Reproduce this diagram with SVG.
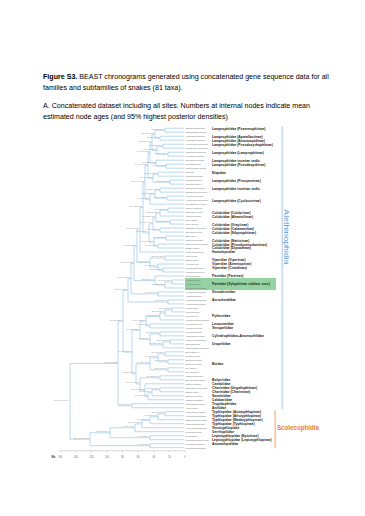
<svg xmlns="http://www.w3.org/2000/svg" width="365" height="516" viewBox="0 0 365 516">
<style>
.br{fill:none;stroke:#8cc0e2;stroke-width:0.6;vector-effect:non-scaling-stroke}
.sp{font-family:"Liberation Sans",Arial,sans-serif;font-size:2px;fill:#666}
.fam{font-family:"Liberation Sans",Arial,sans-serif;font-size:3.4px;font-weight:bold;fill:#222}
.nl{font-family:"Liberation Sans",Arial,sans-serif;font-size:1.8px;fill:#888;text-anchor:end}
.ttl{font-family:"Liberation Sans",Arial,sans-serif;font-size:7.1px;fill:#000}
.axl{font-family:"Liberation Sans",Arial,sans-serif;font-size:2.4px;fill:#666;text-anchor:middle}
</style>
<rect width="365" height="516" fill="#fff"/>
<g id="title">
<text class="ttl" x="43" y="79"><tspan font-weight="bold">Figure S3.</tspan> BEAST chronograms generated using concatenated gene sequence data for all</text>
<text class="ttl" x="43" y="90">families and subfamilies of snakes (81 taxa).</text>
<text class="ttl" x="43" y="108">A. Concatenated dataset including all sites. Numbers at internal nodes indicate mean</text>
<text class="ttl" x="43" y="119">estimated node ages (and 95% highest posterior densities)</text>
</g>
<g id="figure" transform="matrix(1 0 0 1.2286 0 6)">
<g id="clade-bars">
<rect id="alethinophidia-bar" x="281.5" y="98" width="1.6" height="230" fill="#c5dbee"/>
<text x="284.3" y="188" transform="rotate(90 284.3 188)" text-anchor="middle" font-family="Liberation Sans,Arial,sans-serif" font-size="7.2" fill="#5b9bd5">Alethinophidia</text>
<rect id="scolecophidia-bar" x="274.5" y="329" width="1.2" height="31" fill="#f4b083"/>
<text x="277" y="345.5" font-family="Liberation Sans,Arial,sans-serif" font-size="6.2" font-weight="bold" fill="#ed7d31">Scolecophidia</text>
</g>
<rect id="xylophiinae-box" x="185" y="221.4" width="91" height="9.8" fill="#93d3a2"/>
<g id="branches">
<path class="br" d="M184 99.5H165V102.75H184M184 106H160V109.25H184M165 101.13H155V107.63H160M184 112.5H163V115.75H184M184 119H168V122.25H184M163 114.13H157V120.63H168M155 104.38H152V117.38H157M184 128.75H166V132H184M184 125.5H156V130.38H166M152 110.88H150V127.94H156M184 135.25H158V138.5H184M184 141.75H170V145H184M158 136.88H153V143.38H170M150 119.41H148V140.13H153M184 148.25H160V151.5H184M184 154.75H167V158H184M160 149.88H155V156.38H167M155 153.13H150V161.25H184M148 129.77H145V157.19H150"/>
<path class="br" d="M184 164.5H168V167.75H184M168 166.13H160V171H184M184 174.25H170V177.5H184M160 168.56H156V175.88H170M184 180.75H160V184H184M156 172.22H153V182.38H160M184 187.25H166V190.5H184M184 193.75H158V197H184M166 188.88H154V195.38H158M153 177.3H149V192.13H154M145 143.48H143V184.71H149M143 164.1H140V200.25H184"/>
<path class="br" d="M184 203.5H165V206.75H184M184 213.25H163V216.5H184M184 210H158V214.88H163M165 205.13H150V212.44H158M140 182.17H137V208.78H150M184 223H172V226.25H184M172 224.63H165V229.5H184M184 219.75H155V227.06H165M137 195.47H134V223.41H155M184 232.75H158V236H184M134 209.44H131V234.38H158M184 239.25H168V242.5H184M131 221.91H128V240.88H168"/>
<path class="br" d="M184 245.75H172V249H184M172 247.38H165V252.25H184M165 249.81H160V255.5H184M184 258.75H150V262H184M160 252.66H146V260.38H150M184 265.25H160V268.5H184M184 271.75H170V275H184M170 273.38H163V278.25H184M160 266.88H150V275.81H163M146 256.52H140V271.34H150"/>
<path class="br" d="M184 281.5H165V284.75H184M184 288H168V291.25H184M165 283.13H158V289.63H168M184 294.5H168V297.75H184M158 286.38H150V296.13H168M184 301H160V304.25H184M184 310.75H160V314H184M160 312.38H152V317.25H184M152 314.81H148V320.5H184M184 307.5H145V317.66H148M160 302.63H140V312.58H145M150 291.25H136V307.6H140M140 263.93H132V299.43H136M128 231.39H123V281.68H132M184 323.75H132V327H184M123 256.53H118V325.38H132"/>
<path class="br" d="M184 330.25H165V333.5H184M165 331.88H158V336.75H184M158 334.31H150V340H184M150 337.16H142V343.25H184M142 340.2H135V346.5H184M184 349.75H150V353H184M135 343.35H110V351.38H150M184 356.25H150V359.5H184M110 347.36H90V357.88H150M118 290.95H70V352.62H90"/>
</g>
<g id="tips">
<g id="t01"><text class="sp" x="185.5" y="100.2">Psammophis schokari</text><text class="fam" x="212" y="100.7">Lamprophiidae (Psammophiinae)</text></g>
<g id="t02"><text class="sp" x="185.5" y="103.45">Rhamphiophis rostratus</text></g>
<g id="t03"><text class="sp" x="185.5" y="106.7">Aparallactus capensis</text><text class="fam" x="212" y="107.2">Lamprophiidae (Aparallactinae)</text></g>
<g id="t04"><text class="sp" x="185.5" y="109.95">Atractaspis irregularis</text><text class="fam" x="212" y="110.45">Lamprophiidae (Atractaspidinae)</text></g>
<g id="t05"><text class="sp" x="185.5" y="113.2">Leioheterodon modestus</text><text class="fam" x="212" y="113.7">Lamprophiidae (Pseudoxyrhophiinae)</text></g>
<g id="t06"><text class="sp" x="185.5" y="116.45">Compsophis infralineatus</text></g>
<g id="t07"><text class="sp" x="185.5" y="119.7">Lamprophis fuliginosus</text><text class="fam" x="212" y="120.2">Lamprophiidae (Lamprophiinae)</text></g>
<g id="t08"><text class="sp" x="185.5" y="122.95">Lycophidion capense</text></g>
<g id="t09"><text class="sp" x="185.5" y="126.2">Micrelaps bicoloratus</text><text class="fam" x="212" y="126.7">Lamprophiidae incertae sedis</text></g>
<g id="t10"><text class="sp" x="185.5" y="129.45">Pseudaspis cana</text><text class="fam" x="212" y="129.95">Lamprophiidae (Pseudaspidinae)</text></g>
<g id="t11"><text class="sp" x="185.5" y="132.7">Pythonodipsas carinata</text></g>
<g id="t12"><text class="sp" x="185.5" y="135.95">Naja naja</text><text class="fam" x="212" y="136.45">Elapidae</text></g>
<g id="t13"><text class="sp" x="185.5" y="139.2">Laticauda colubrina</text></g>
<g id="t14"><text class="sp" x="185.5" y="142.45">Prosymna greigerti</text><text class="fam" x="212" y="142.95">Lamprophiidae (Prosymninae)</text></g>
<g id="t15"><text class="sp" x="185.5" y="145.7">Prosymna ruspolii</text></g>
<g id="t16"><text class="sp" x="185.5" y="148.95">Buhoma depressiceps</text><text class="fam" x="212" y="149.45">Lamprophiidae incertae sedis</text></g>
<g id="t17"><text class="sp" x="185.5" y="152.2">Psammodynastes pictus</text></g>
<g id="t18"><text class="sp" x="185.5" y="155.45">Cyclocorus lineatus</text></g>
<g id="t19"><text class="sp" x="185.5" y="158.7">Hologerrhum philippinum</text><text class="fam" x="212" y="159.2">Lamprophiidae (Cyclocorinae)</text></g>
<g id="t20"><text class="sp" x="185.5" y="161.95">Oxyrhabdium leporinum</text></g>
<g id="t21"><text class="sp" x="185.5" y="165.2">Coluber constrictor</text></g>
<g id="t22"><text class="sp" x="185.5" y="168.45">Lampropeltis getula</text><text class="fam" x="212" y="168.95">Colubridae (Colubrinae)</text></g>
<g id="t23"><text class="sp" x="185.5" y="171.7">Ahaetulla prasina</text><text class="fam" x="212" y="172.2">Colubridae (Ahaetuliinae)</text></g>
<g id="t24"><text class="sp" x="185.5" y="174.95">Grayia smithii</text></g>
<g id="t25"><text class="sp" x="185.5" y="178.2">Grayia tholloni</text><text class="fam" x="212" y="178.7">Colubridae (Grayiinae)</text></g>
<g id="t26"><text class="sp" x="185.5" y="181.45">Calamaria pavimentata</text><text class="fam" x="212" y="181.95">Colubridae (Calamariinae)</text></g>
<g id="t27"><text class="sp" x="185.5" y="184.7">Sibynophis collaris</text><text class="fam" x="212" y="185.2">Colubridae (Sibynophiinae)</text></g>
<g id="t28"><text class="sp" x="185.5" y="187.95">Natrix natrix</text></g>
<g id="t29"><text class="sp" x="185.5" y="191.2">Thamnophis sirtalis</text><text class="fam" x="212" y="191.7">Colubridae (Natricinae)</text></g>
<g id="t30"><text class="sp" x="185.5" y="194.45">Pseudoxenodon macrops</text><text class="fam" x="212" y="194.95">Colubridae (Pseudoxenodontinae)</text></g>
<g id="t31"><text class="sp" x="185.5" y="197.7">Dipsas catesbyi</text><text class="fam" x="212" y="198.2">Colubridae (Dipsadinae)</text></g>
<g id="t32"><text class="sp" x="185.5" y="200.95">Homalopsis buccata</text><text class="fam" x="212" y="201.45">Homalopsidae</text></g>
<g id="t33"><text class="sp" x="185.5" y="204.2">Vipera berus</text></g>
<g id="t34"><text class="sp" x="185.5" y="207.45">Daboia russelii</text><text class="fam" x="212" y="207.95">Viperidae (Viperinae)</text></g>
<g id="t35"><text class="sp" x="185.5" y="210.7">Azemiops feae</text><text class="fam" x="212" y="211.2">Viperidae (Azemiopinae)</text></g>
<g id="t36"><text class="sp" x="185.5" y="213.95">Crotalus adamanteus</text><text class="fam" x="212" y="214.45">Viperidae (Crotalinae)</text></g>
<g id="t37"><text class="sp" x="185.5" y="217.2">Agkistrodon contortrix</text></g>
<g id="t38"><text class="sp" x="185.5" y="220.45">Pareas hamptoni</text><text class="fam" x="212" y="220.95">Pareidae (Pareinae)</text></g>
<g id="t39"><text class="sp" x="185.5" y="223.7">Xylophis perroteti</text></g>
<g id="t40"><text class="sp" x="185.5" y="226.95">Xylophis captaini</text><text class="fam" x="212" y="227.45">Pareidae (Xylophiinae subfam. nov.)</text></g>
<g id="t41"><text class="sp" x="185.5" y="230.2">Xylophis stenorhynchus</text></g>
<g id="t42"><text class="sp" x="185.5" y="233.45">Xenodermus javanicus</text><text class="fam" x="212" y="233.95">Xenodermidae</text></g>
<g id="t43"><text class="sp" x="185.5" y="236.7">Achalinus spinalis</text></g>
<g id="t44"><text class="sp" x="185.5" y="239.95">Acrochordus granulatus</text><text class="fam" x="212" y="240.45">Acrochordidae</text></g>
<g id="t45"><text class="sp" x="185.5" y="243.2">Acrochordus javanicus</text></g>
<g id="t46"><text class="sp" x="185.5" y="246.45">Python regius</text></g>
<g id="t47"><text class="sp" x="185.5" y="249.7">Python molurus</text></g>
<g id="t48"><text class="sp" x="185.5" y="252.95">Morelia spilota</text><text class="fam" x="212" y="253.45">Pythonidae</text></g>
<g id="t49"><text class="sp" x="185.5" y="256.2">Aspidites melanocephalus</text></g>
<g id="t50"><text class="sp" x="185.5" y="259.45">Loxocemus bicolor</text><text class="fam" x="212" y="259.95">Loxocemidae</text></g>
<g id="t51"><text class="sp" x="185.5" y="262.7">Xenopeltis unicolor</text><text class="fam" x="212" y="263.2">Xenopeltidae</text></g>
<g id="t52"><text class="sp" x="185.5" y="265.95">Cylindrophis ruffus</text></g>
<g id="t53"><text class="sp" x="185.5" y="269.2">Anomochilus leonardi</text><text class="fam" x="212" y="269.7">Cylindrophiidae+Anomochilidae</text></g>
<g id="t54"><text class="sp" x="185.5" y="272.45">Uropeltis melanogaster</text></g>
<g id="t55"><text class="sp" x="185.5" y="275.7">Rhinophis blythii</text><text class="fam" x="212" y="276.2">Uropeltidae</text></g>
<g id="t56"><text class="sp" x="185.5" y="278.95">Melanophidium punctatum</text></g>
<g id="t57"><text class="sp" x="185.5" y="282.2">Boa constrictor</text></g>
<g id="t58"><text class="sp" x="185.5" y="285.45">Corallus caninus</text></g>
<g id="t59"><text class="sp" x="185.5" y="288.7">Epicrates cenchria</text></g>
<g id="t60"><text class="sp" x="185.5" y="291.95">Eunectes murinus</text><text class="fam" x="212" y="292.45">Boidae</text></g>
<g id="t61"><text class="sp" x="185.5" y="295.2">Eryx jaculus</text></g>
<g id="t62"><text class="sp" x="185.5" y="298.45">Eryx colubrinus</text></g>
<g id="t63"><text class="sp" x="185.5" y="301.7">Casarea dussumieri</text></g>
<g id="t64"><text class="sp" x="185.5" y="304.95">Bolyeria multocarinata</text><text class="fam" x="212" y="305.45">Bolyeriidae</text></g>
<g id="t65"><text class="sp" x="185.5" y="308.2">Candoia carinata</text><text class="fam" x="212" y="308.7">Candoiidae</text></g>
<g id="t66"><text class="sp" x="185.5" y="311.45">Ungaliophis continentalis</text><text class="fam" x="212" y="311.95">Charinidae (Ungaliophiinae)</text></g>
<g id="t67"><text class="sp" x="185.5" y="314.7">Charina bottae</text><text class="fam" x="212" y="315.2">Charinidae (Charininae)</text></g>
<g id="t68"><text class="sp" x="185.5" y="317.95">Sanzinia volontany</text><text class="fam" x="212" y="318.45">Sanziniidae</text></g>
<g id="t69"><text class="sp" x="185.5" y="321.2">Calabaria reinhardtii</text><text class="fam" x="212" y="321.7">Calabariidae</text></g>
<g id="t70"><text class="sp" x="185.5" y="324.45">Tropidophis haetianus</text><text class="fam" x="212" y="324.95">Tropidophiidae</text></g>
<g id="t71"><text class="sp" x="185.5" y="327.7">Anilius scytale</text><text class="fam" x="212" y="328.2">Aniliidae</text></g>
<g id="t72"><text class="sp" x="185.5" y="330.95">Indotyphlops braminus</text><text class="fam" x="212" y="331.45">Typhlopidae (Asiatyphlopinae)</text></g>
<g id="t73"><text class="sp" x="185.5" y="334.2">Afrotyphlops punctatus</text><text class="fam" x="212" y="334.7">Typhlopidae (Afrotyphlopinae)</text></g>
<g id="t74"><text class="sp" x="185.5" y="337.45">Madatyphlops arenarius</text><text class="fam" x="212" y="337.95">Typhlopidae (Madatyphlopinae)</text></g>
<g id="t75"><text class="sp" x="185.5" y="340.7">Typhlops jamaicensis</text><text class="fam" x="212" y="341.2">Typhlopidae (Typhlopinae)</text></g>
<g id="t76"><text class="sp" x="185.5" y="343.95">Xenotyphlops grandidieri</text><text class="fam" x="212" y="344.45">Xenotyphlopidae</text></g>
<g id="t77"><text class="sp" x="185.5" y="347.2">Gerrhopilus mirus</text><text class="fam" x="212" y="347.7">Gerrhopilidae</text></g>
<g id="t78"><text class="sp" x="185.5" y="350.45">Rena humilis</text><text class="fam" x="212" y="350.95">Leptotyphlopidae (Epictinae)</text></g>
<g id="t79"><text class="sp" x="185.5" y="353.7">Myriopholis macrorhyncha</text><text class="fam" x="212" y="354.2">Leptotyphlopidae (Leptotyphlopinae)</text></g>
<g id="t80"><text class="sp" x="185.5" y="356.95">Liotyphlops albirostris</text><text class="fam" x="212" y="357.45">Anomalepididae</text></g>
<g id="t81"><text class="sp" x="185.5" y="360.2">Typhlophis squamosus</text></g>
</g>
<g id="node-labels">
<g id="n1"><text class="nl" x="164.2" y="100.7">25.6 (21.3-30.1)</text></g>
<g id="n2"><text class="nl" x="159.2" y="107.2">32.1 (27.4-37.2)</text></g>
<g id="n3"><text class="nl" x="154.2" y="104">38.5 (33.6-43.9)</text></g>
<g id="n4"><text class="nl" x="162.2" y="113.7">28.2 (23.5-33.0)</text></g>
<g id="n5"><text class="nl" x="167.2" y="120.2">21.8 (17.6-26.4)</text></g>
<g id="n6"><text class="nl" x="156.2" y="117">35.9 (31.0-41.2)</text></g>
<g id="n7"><text class="nl" x="151.2" y="110.5">42.3 (37.5-47.4)</text></g>
<g id="n8a"><text class="nl" x="165.2" y="130">24.4 (19.8-29.3)</text></g>
<g id="n8"><text class="nl" x="155.2" y="127.5">37.2 (32.0-42.6)</text></g>
<g id="n9"><text class="nl" x="149.2" y="119">44.9 (40.1-50.2)</text></g>
<g id="n10"><text class="nl" x="157.2" y="136.5">34.6 (29.7-39.8)</text></g>
<g id="n11"><text class="nl" x="169.2" y="143">19.2 (14.6-24.1)</text></g>
<g id="n12"><text class="nl" x="152.2" y="139.7">41.0 (36.2-46.1)</text></g>
<g id="n13"><text class="nl" x="147.2" y="129.4">47.4 (42.6-52.5)</text></g>
<g id="n14"><text class="nl" x="159.2" y="149.5">32.1 (26.9-37.5)</text></g>
<g id="n15"><text class="nl" x="166.2" y="156">23.1 (18.7-27.9)</text></g>
<g id="n16"><text class="nl" x="154.2" y="152.7">38.5 (33.2-44.0)</text></g>
<g id="n17"><text class="nl" x="149.2" y="156.8">44.9 (39.7-50.3)</text></g>
<g id="nE"><text class="nl" x="144.2" y="143.1">51.3 (46.4-56.5)</text></g>
<g id="c1"><text class="nl" x="167.2" y="165.7">21.8 (17.9-26.0)</text></g>
<g id="c2"><text class="nl" x="159.2" y="168.2">32.1 (27.6-36.9)</text></g>
<g id="c3"><text class="nl" x="169.2" y="175.5">19.2 (14.8-23.9)</text></g>
<g id="c4"><text class="nl" x="155.2" y="171.8">37.2 (32.5-42.1)</text></g>
<g id="c5"><text class="nl" x="159.2" y="182">32.1 (27.0-37.4)</text></g>
<g id="c6"><text class="nl" x="152.2" y="176.9">41.0 (36.4-45.9)</text></g>
<g id="c7"><text class="nl" x="165.2" y="188.5">24.4 (20.1-28.9)</text></g>
<g id="c8"><text class="nl" x="157.2" y="195">34.6 (29.9-39.5)</text></g>
<g id="c9"><text class="nl" x="153.2" y="191.7">39.7 (35.0-44.6)</text></g>
<g id="nCol"><text class="nl" x="148.2" y="184.3">46.2 (41.5-51.1)</text></g>
<g id="nce"><text class="nl" x="142.2" y="163.7">53.8 (48.9-58.9)</text></g>
<g id="nco1"><text class="nl" x="139.2" y="181.8">57.7 (52.6-63.0)</text></g>
<g id="v1"><text class="nl" x="164.2" y="204.7">25.6 (21.0-30.5)</text></g>
<g id="v2"><text class="nl" x="162.2" y="214.5">28.2 (23.6-33.1)</text></g>
<g id="v3"><text class="nl" x="157.2" y="212">34.6 (29.8-39.7)</text></g>
<g id="nVip"><text class="nl" x="149.2" y="208.4">44.9 (39.5-50.4)</text></g>
<g id="nco2"><text class="nl" x="136.2" y="195">61.5 (56.2-67.0)</text></g>
<g id="p1"><text class="nl" x="171.2" y="224.2">16.7 (12.4-21.3)</text></g>
<g id="p2"><text class="nl" x="164.2" y="226.7">25.6 (20.5-30.9)</text></g>
<g id="nPar"><text class="nl" x="154.2" y="223">38.5 (32.8-44.5)</text></g>
<g id="nco3"><text class="nl" x="133.2" y="209">65.4 (59.8-71.2)</text></g>
<g id="x1"><text class="nl" x="157.2" y="234">34.6 (28.7-40.8)</text></g>
<g id="nColu"><text class="nl" x="130.2" y="221.5">69.2 (63.5-75.1)</text></g>
<g id="a1"><text class="nl" x="167.2" y="240.5">21.8 (16.3-27.6)</text></g>
<g id="nC"><text class="nl" x="127.2" y="231">73.1 (66.9-79.5)</text></g>
<g id="py1"><text class="nl" x="171.2" y="247">16.7 (12.9-20.8)</text></g>
<g id="py2"><text class="nl" x="164.2" y="249.4">25.6 (21.2-30.3)</text></g>
<g id="py3"><text class="nl" x="159.2" y="252.3">32.1 (27.3-37.2)</text></g>
<g id="lx"><text class="nl" x="149.2" y="260">44.9 (38.6-51.4)</text></g>
<g id="py4"><text class="nl" x="145.2" y="256.1">50.0 (44.2-56.0)</text></g>
<g id="u1"><text class="nl" x="159.2" y="266.5">32.1 (26.5-38.0)</text></g>
<g id="u2"><text class="nl" x="169.2" y="273">19.2 (14.9-23.8)</text></g>
<g id="u3"><text class="nl" x="162.2" y="275.4">28.2 (23.4-33.3)</text></g>
<g id="nUro"><text class="nl" x="149.2" y="271">44.9 (39.0-50.9)</text></g>
<g id="npu"><text class="nl" x="139.2" y="263.5">57.7 (51.8-63.8)</text></g>
<g id="b1"><text class="nl" x="164.2" y="282.7">25.6 (20.9-30.6)</text></g>
<g id="b2"><text class="nl" x="167.2" y="289.2">21.8 (17.7-26.2)</text></g>
<g id="nBoi"><text class="nl" x="157.2" y="286">34.6 (29.6-39.9)</text></g>
<g id="e1"><text class="nl" x="167.2" y="295.7">21.8 (16.8-27.1)</text></g>
<g id="bA"><text class="nl" x="149.2" y="290.8">44.9 (39.4-50.6)</text></g>
<g id="bo"><text class="nl" x="159.2" y="302.2">32.1 (25.8-38.7)</text></g>
<g id="ch"><text class="nl" x="159.2" y="312">32.1 (26.6-37.9)</text></g>
<g id="bB"><text class="nl" x="151.2" y="314.4">42.3 (36.7-48.1)</text></g>
<g id="bC"><text class="nl" x="147.2" y="317.3">47.4 (41.8-53.2)</text></g>
<g id="bD"><text class="nl" x="144.2" y="312.2">51.3 (45.6-57.2)</text></g>
<g id="bE"><text class="nl" x="139.2" y="307.2">57.7 (51.7-63.9)</text></g>
<g id="nBooid"><text class="nl" x="135.2" y="299">62.8 (56.9-68.9)</text></g>
<g id="nH"><text class="nl" x="131.2" y="281.3">67.9 (61.8-74.2)</text></g>
<g id="nAF"><text class="nl" x="122.2" y="256.1">79.5 (72.9-86.3)</text></g>
<g id="nAM"><text class="nl" x="131.2" y="325">64.1 (55.2-73.4)</text></g>
<g id="nA"><text class="nl" x="117.2" y="290.5">85.9 (78.6-93.5)</text></g>
<g id="t1n"><text class="nl" x="164.2" y="331.5">25.6 (19.7-31.8)</text></g>
<g id="t2n"><text class="nl" x="157.2" y="333.9">34.6 (28.3-41.2)</text></g>
<g id="t3n"><text class="nl" x="149.2" y="336.8">44.9 (38.2-51.9)</text></g>
<g id="t4n"><text class="nl" x="141.2" y="339.8">55.1 (47.9-62.6)</text></g>
<g id="t5n"><text class="nl" x="134.2" y="343">64.1 (56.4-72.1)</text></g>
<g id="l1"><text class="nl" x="149.2" y="351">44.9 (36.8-53.4)</text></g>
<g id="t6n"><text class="nl" x="109.2" y="347">96.2 (85.3-107.6)</text></g>
<g id="an"><text class="nl" x="149.2" y="357.5">44.9 (35.1-55.3)</text></g>
<g id="nS"><text class="nl" x="89.2" y="352.2">121.8 (106.9-137.2)</text></g>
<g id="nRoot"><text class="nl" x="69.2" y="321.4">147.4 (130.6-164.9)</text></g>
</g>
<g id="axis">
<path d="M60 362H185M60.2 362v1.3M75.8 362v1.3M91.4 362v1.3M107 362v1.3M122.6 362v1.3M138.2 362v1.3M153.8 362v1.3M169.4 362v1.3M185 362v1.3" fill="none" stroke="#999" stroke-width="0.4" vector-effect="non-scaling-stroke"/>
<text x="51.5" y="367.6" font-family="Liberation Sans,Arial,sans-serif" font-size="2.6" font-weight="bold" fill="#333">Ma</text>
<text class="axl" x="60.2" y="367.6">160</text>
<text class="axl" x="75.8" y="367.6">140</text>
<text class="axl" x="91.4" y="367.6">120</text>
<text class="axl" x="107" y="367.6">100</text>
<text class="axl" x="122.6" y="367.6">80</text>
<text class="axl" x="138.2" y="367.6">60</text>
<text class="axl" x="153.8" y="367.6">40</text>
<text class="axl" x="169.4" y="367.6">20</text>
<text class="axl" x="185" y="367.6">0</text>
</g>
</g>
</svg>
